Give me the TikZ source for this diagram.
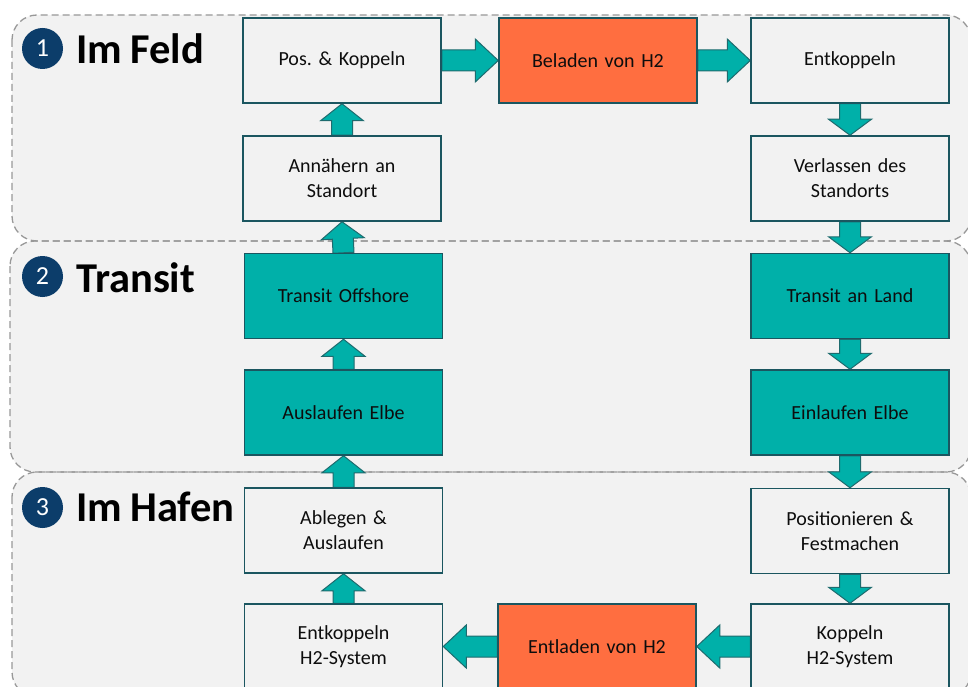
\documentclass[tikz,border=0pt]{standalone}
\usepackage{fontspec}
\setmainfont{Carlito}[WordSpace=0.85]
\usetikzlibrary{calc}
\frenchspacing
\definecolor{regfill}{HTML}{F2F2F2}
\definecolor{regdash}{HTML}{989898}
\definecolor{tealfill}{HTML}{00B0A9}
\definecolor{boxline}{HTML}{1B5660}
\definecolor{arrline}{HTML}{1E6B6E}
\definecolor{hotfill}{HTML}{FF6E40}
\definecolor{navyfill}{HTML}{0C3D6A}
\definecolor{txtcol}{HTML}{0D0D0D}
\pgfdeclarelayer{bglayer}
\pgfdeclarelayer{arrlayer}
\pgfsetlayers{bglayer,arrlayer,main}
\newcommand{\blockarrow}[3]{%
  \coordinate (hb) at ($(#2)!#3!(#1)$);
  \draw[barrow] ($(#1)!10.5pt!90:(#2)$) -- ($(hb)!10.5pt!90:(#2)$) -- ($(hb)!21.5pt!90:(#2)$) -- (#2)
     -- ($(hb)!21.5pt!-90:(#2)$) -- ($(hb)!10.5pt!-90:(#2)$) -- ($(#1)!10.5pt!-90:(#2)$) -- cycle;
}
\begin{document}
\begin{tikzpicture}[x=1pt,y=-1pt,
 regionfill/.style={fill=regfill, rounded corners=25pt},
 regionline/.style={draw=regdash, line width=1.3pt, dash pattern=on 7pt off 4pt, rounded corners=25pt},
 proc/.style={draw=boxline, line width=1.5pt, fill=regfill, minimum width=198pt, minimum height=85pt,
   text width=190pt, align=center, inner sep=0pt, font=\fontsize{20}{25}\selectfont, text=txtcol},
 tealbox/.style={proc, fill=tealfill},
 hotbox/.style={proc, fill=hotfill},
 numcirc/.style={circle, fill=navyfill, minimum size=41pt, inner sep=0pt, text=white, font=\fontsize{26}{26}\selectfont},
 phase/.style={anchor=base west, inner sep=0pt, font=\fontsize{42.5}{42.5}\selectfont\bfseries, text=black},
 barrow/.style={fill=tealfill, draw=arrline, line width=1pt, line join=miter}
]
\useasboundingbox (0,0) rectangle (968,687);
\clip (0,0) rectangle (968,687);

\begin{pgfonlayer}{bglayer}
\path[regionfill] (12,15) rectangle (971,241);
\path[regionfill] (10,241) rectangle (971,472);
\path[regionfill] (12,472) rectangle (971,697);
\path[regionline] (12,15) rectangle (971,241);
\path[regionline] (10,241) rectangle (971,472);
\path[regionline] (12,472) rectangle (971,697);
\end{pgfonlayer}

% phase labels
\node[numcirc] (n1) at (42.5,48.5) {1};
\node[phase] (t1) at (76,64) {Im Feld};
\node[numcirc] (n2) at (42.5,276.5) {2};
\node[phase] (t2) at (76,292) {Transit};
\node[numcirc] (n3) at (42.5,507.5) {3};
\node[phase] (t3) at (76,521) {Im Hafen};

% boxes
\node[proc] (pos) at (342,60.5) {Pos. \& Koppeln};
\node[hotbox] (bel) at (598,60.5) {Beladen von H2};
\node[proc] (ent) at (850,60.5) {Entkoppeln};
\node[proc] (ann) at (342,178.5) {Annähern an\\Standort};
\node[proc] (ver) at (850,178.5) {Verlassen des\\Standorts};
\node[tealbox] (tof) at (343.5,296) {Transit Offshore};
\node[tealbox] (tla) at (850,296) {Transit an Land};
\node[tealbox] (aus) at (343.5,412.5) {Auslaufen Elbe};
\node[tealbox] (ein) at (850,412.5) {Einlaufen Elbe};
\node[proc] (abl) at (343.5,530.5) {Ablegen \&\\Auslaufen};
\node[proc] (posf) at (850,531) {Positionieren \&\\Festmachen};
\node[proc] (ekh) at (343.5,646.5) {Entkoppeln\\H2-System};
\node[hotbox] (entl) at (597,646.5) {Entladen von H2};
\node[proc] (kop) at (850,646.5) {Koppeln\\H2-System};

\begin{pgfonlayer}{arrlayer}
\blockarrow{pos.east}{bel.west}{23pt}
\blockarrow{bel.east}{ent.west}{23pt}
\blockarrow{ent.south}{ver.north}{16pt}
\blockarrow{ver.south}{tla.north}{16pt}
\blockarrow{tla.south}{ein.north}{16pt}
\blockarrow{ein.south}{posf.north}{16pt}
\blockarrow{posf.south}{kop.north}{16pt}
\blockarrow{kop.west}{entl.east}{23pt}
\blockarrow{entl.west}{ekh.east}{23pt}
\blockarrow{ekh.north}{abl.south}{17pt}
\blockarrow{abl.north}{aus.south}{17pt}
\blockarrow{aus.north}{tof.south}{17pt}
\blockarrow{tof.north}{ann.south}{17pt}
\blockarrow{ann.north}{pos.south}{17pt}
\end{pgfonlayer}
\end{tikzpicture}
\end{document}
